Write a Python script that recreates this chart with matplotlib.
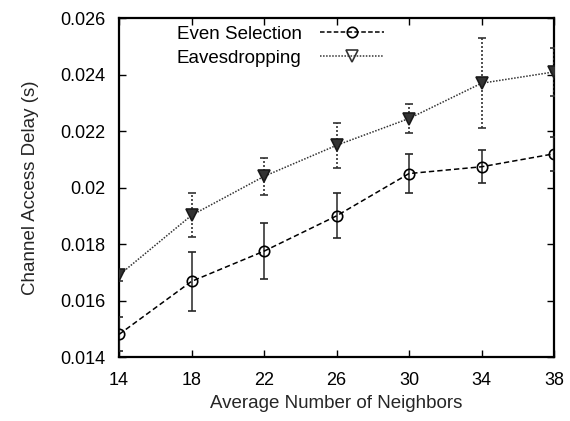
import matplotlib
matplotlib.use("Agg")
from matplotlib import pyplot as plt
from matplotlib.lines import Line2D
import numpy as np

plt.rcParams['font.family'] = ['Liberation Sans', 'DejaVu Sans']

neighbors = [14, 18, 22, 26, 30, 34, 38]

even_delay = [0.0148, 0.01668, 0.01775, 0.0190, 0.0205, 0.02074, 0.0212]
even_err = [0.0006, 0.00105, 0.0010, 0.0008, 0.0007, 0.00058, 0.0006]

eaves_delay = [0.0169, 0.01902, 0.0204, 0.0215, 0.02245, 0.0237, 0.0241]
eaves_err = [0.0002, 0.00078, 0.00065, 0.0008, 0.00052, 0.0016, 0.00085]

fig = plt.figure(figsize=(5.7, 4.21), dpi=100)
ax = fig.add_axes([0.2088, 0.152, 0.7632, 0.8045])

# even selection: dashed line, open circles, solid error bars
ax.errorbar(neighbors, even_delay, yerr=even_err, color='black', ecolor='0.15',
            linestyle=(0, (3.5, 2)), linewidth=1.1, marker='o', markersize=7.5,
            markerfacecolor='none', markeredgewidth=1.2, capsize=2.6,
            elinewidth=1.1, capthick=1.1, zorder=3)

# eavesdropping: dotted line, dark triangles, dotted error bars
eb = ax.errorbar(neighbors, eaves_delay, yerr=eaves_err, color='0.2', ecolor='0.2',
                 linestyle=(0, (1, 1)), linewidth=1.1, marker='v', markersize=8,
                 markerfacecolor='0.2', markeredgecolor='0.1', markeredgewidth=1.2,
                 capsize=2.6, elinewidth=1.2, capthick=1.1, zorder=3)
for col in eb[2]:
    col.set_linestyle((0, (1.2, 1.2)))

ax.set_xlim(14, 38)
ax.set_ylim(0.014, 0.026)
ax.set_xticks(neighbors)
ax.set_yticks(np.arange(0.014, 0.0261, 0.002))
ax.set_yticklabels(['0.014', '0.016', '0.018', '0.02', '0.022', '0.024', '0.026'])

ax.tick_params(direction='in', length=5, width=1, top=True, right=True,
               labelsize=13, colors='black')
ax.tick_params(axis='y', pad=10)
ax.tick_params(axis='x', pad=11)
for sp in ax.spines.values():
    sp.set_linewidth(1.6)

ax.set_xlabel('Average Number of Neighbors', fontsize=13.5, labelpad=4, color='0.15')
ax.set_ylabel('Channel Access Delay (s)', fontsize=13.5, labelpad=15, color='0.15')

handles = [
    Line2D([], [], color='black', linestyle=(0, (3, 1.5)), linewidth=1.1,
           marker='o', markersize=7.5, markerfacecolor='none', markeredgewidth=1.2),
    Line2D([], [], color='0.2', linestyle=(0, (1, 1)), linewidth=1.1,
           marker='v', markersize=8, markerfacecolor='none', markeredgewidth=1.2),
]
ax.legend(handles, ['Even Selection', 'Eavesdropping'], loc='upper left',
          bbox_to_anchor=(0.115, 1.0), frameon=False, markerfirst=False,
          fontsize=13.5, handlelength=3.4, handletextpad=1.0, labelspacing=0.35,
          borderaxespad=0)

fig.savefig('out.png', dpi=100)
